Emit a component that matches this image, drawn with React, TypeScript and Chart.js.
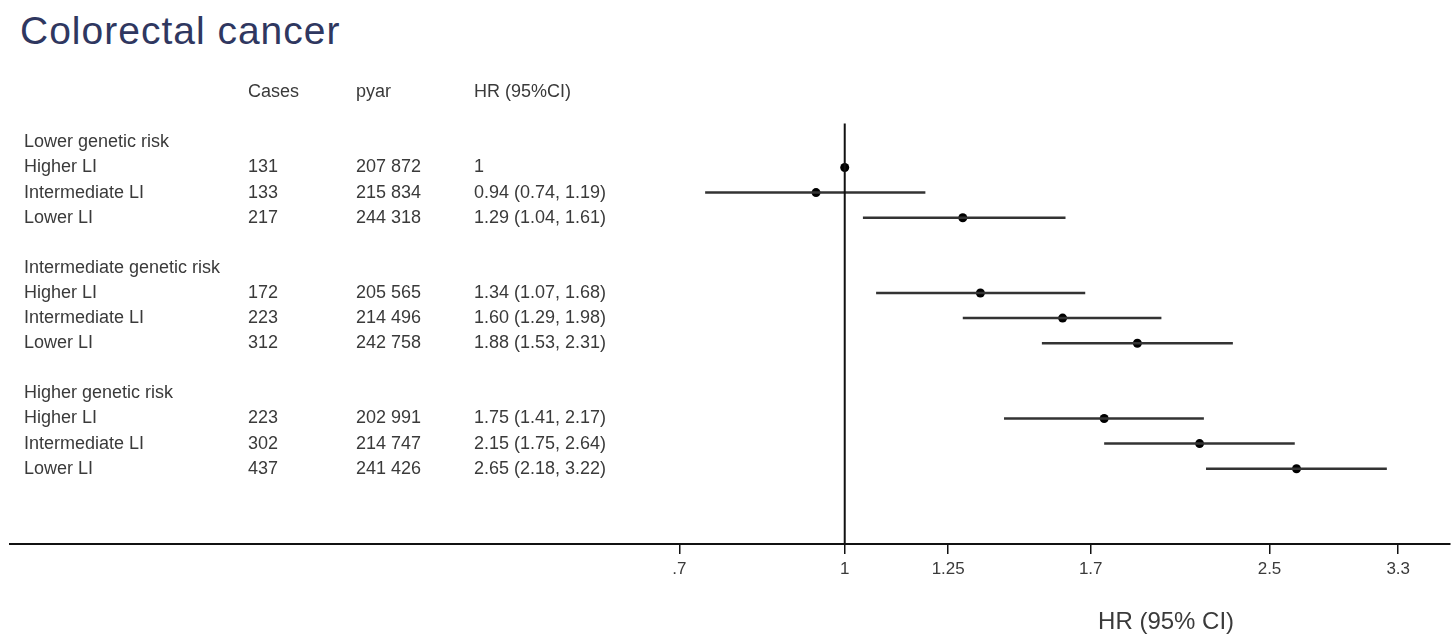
import { useEffect, useRef } from "react"
import Chart from "chart.js/auto"

const groups = ["Lower genetic risk", "Intermediate genetic risk", "Higher genetic risk"]
const lifestyle = ["Higher LI", "Intermediate LI", "Lower LI"]
const cases = [131, 133, 217, 172, 223, 312, 223, 302, 437]
const pyar = [207872, 215834, 244318, 205565, 214496, 242758, 202991, 214747, 241426]
const hr = [1, 0.94, 1.29, 1.34, 1.6, 1.88, 1.75, 2.15, 2.65]
const lower = [null, 0.74, 1.04, 1.07, 1.29, 1.53, 1.41, 1.75, 2.18]
const upper = [null, 1.19, 1.61, 1.68, 1.98, 2.31, 2.17, 2.64, 3.22]
const tickValues = [0.7, 1, 1.25, 1.7, 2.5, 3.3]
const tickLabels = [".7", "1", "1.25", "1.7", "2.5", "3.3"]
const columnHeaders = ["Cases", "pyar", "HR (95%CI)"]

const FONT = '"Liberation Sans", Arial, Helvetica, sans-serif'
const TEXT = "#3a3a3a"

// row index on the y axis: each group gets a header row, three rows, one blank
const rowOf = (i: number) => Math.floor(i / 3) * 5 + 1 + (i % 3)
const fmtPyar = (n: number) => String(n).replace(/\B(?=(\d{3})+(?!\d))/g, " ")
const fmtHr = (i: number) =>
  lower[i] == null
    ? String(hr[i])
    : `${hr[i].toFixed(2)} (${(lower[i] as number).toFixed(2)}, ${(upper[i] as number).toFixed(2)})`

const tablePlugin = {
  id: "forestTable",
  afterDraw(chart: any) {
    const { ctx } = chart
    const y = chart.scales.y
    const x = chart.scales.x
    const cols = [24, 248, 356, 474]
    ctx.save()
    ctx.fillStyle = TEXT
    ctx.textBaseline = "middle"
    ctx.textAlign = "left"
    ctx.font = `18px ${FONT}`
    columnHeaders.forEach((h, k) => ctx.fillText(h, cols[k + 1], y.getPixelForValue(-2)))
    groups.forEach((g, k) => ctx.fillText(g, cols[0], y.getPixelForValue(k * 5)))
    hr.forEach((_, i) => {
      const py = y.getPixelForValue(rowOf(i))
      ctx.fillText(lifestyle[i % 3], cols[0], py)
      ctx.fillText(String(cases[i]), cols[1], py)
      ctx.fillText(fmtPyar(pyar[i]), cols[2], py)
      ctx.fillText(fmtHr(i), cols[3], py)
    })
    ctx.font = `24px ${FONT}`
    ctx.textAlign = "center"
    ctx.fillText("HR (95% CI)", x.getPixelForValue(2), 622)
    ctx.restore()
  },
}

export default function App() {
  const chartRef = useRef<HTMLCanvasElement>(null)
  const chartInstance = useRef<Chart | null>(null)

  useEffect(() => {
    if (!chartRef.current) return
    const ctx = chartRef.current.getContext("2d")
    if (!ctx) return
    if (chartInstance.current) chartInstance.current.destroy()

    const ciSets = hr
      .map((_, i) => i)
      .filter((i) => lower[i] != null)
      .map((i) => ({
        data: [
          { x: lower[i] as number, y: rowOf(i) },
          { x: upper[i] as number, y: rowOf(i) },
        ],
        showLine: true,
        borderColor: "#333",
        borderWidth: 2.5,
        pointRadius: 0,
      }))

    chartInstance.current = new Chart(ctx, {
      type: "scatter",
      data: {
        datasets: [
          {
            data: [
              { x: 1, y: -0.75 },
              { x: 1, y: 16 },
            ],
            showLine: true,
            borderColor: "#111",
            borderWidth: 2,
            pointRadius: 0,
          },
          ...ciSets,
          {
            data: hr.map((v, i) => ({ x: v, y: rowOf(i) })),
            backgroundColor: "#000",
            borderWidth: 0,
            pointRadius: 4.5,
          },
        ],
      },
      options: {
        animation: false,
        responsive: true,
        maintainAspectRatio: false,
        layout: { padding: { left: 10, right: 4, top: 92.2, bottom: 50.6 } },
        plugins: { legend: { display: false }, tooltip: { enabled: false } },
        scales: {
          x: {
            type: "logarithmic",
            min: 0.1652,
            max: 3.686,
            afterBuildTicks: (scale: any) => {
              scale.ticks = tickValues.map((v) => ({ value: v }))
            },
            ticks: {
              callback: (_v: any, i: number) => tickLabels[i],
              font: { size: 17, family: FONT },
              color: TEXT,
              padding: 5,
              autoSkip: false,
              maxRotation: 0,
            },
            grid: { drawOnChartArea: false, drawTicks: true, tickLength: 10, color: "#111", lineWidth: 1.5 },
            border: { display: true, color: "#111", width: 2 },
          },
          y: { type: "linear", display: false, reverse: true, min: -2, max: 16 },
        },
      },
      plugins: [tablePlugin],
    })

    return () => {
      if (chartInstance.current) {
        chartInstance.current.destroy()
        chartInstance.current = null
      }
    }
  }, [])

  return (
    <div style={{ position: "absolute", left: 0, top: 0, width: 1454, height: 635, background: "#fff" }}>
      <div
        style={{
          position: "absolute",
          left: 20,
          top: 9,
          fontFamily: FONT,
          fontSize: 39,
          letterSpacing: 1,
          color: "#2f3760",
          lineHeight: "44px",
        }}
      >
        Colorectal cancer
      </div>
      <div style={{ position: "absolute", left: 0, top: 0, width: 1454, height: 635 }}>
        <canvas ref={chartRef} />
      </div>
    </div>
  )
}
